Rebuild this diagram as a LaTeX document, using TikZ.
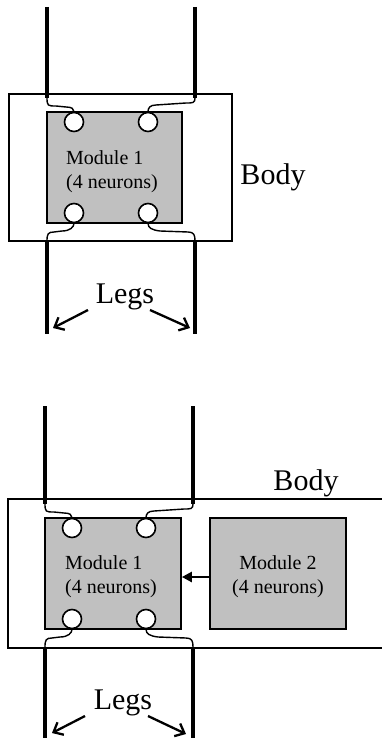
\documentclass[tikz,border=0pt]{standalone}
\usepackage{fontspec}
\setmainfont{Liberation Serif}
\usetikzlibrary{arrows.meta}
\definecolor{modgray}{RGB}{192,192,192}
\tikzset{
  bodybox/.style={draw, line width=1.4pt},
  module/.style={draw, fill=modgray, line width=1.7pt, minimum width=#1, minimum height=111pt, inner sep=0pt},
  neuron/.style={circle, draw, fill=white, minimum size=19pt, inner sep=0pt, line width=1.6pt},
  leg/.style={line width=3.3pt},
  wire/.style={line width=1.4pt},
  modtext/.style={font=\fontsize{20}{24}\selectfont, inner sep=0pt},
  bigtext/.style={font=\fontsize{30}{36}\selectfont, inner sep=0pt},
  legarrow/.style={line width=2.3pt, -{Straight Barb[length=8pt,width=14pt,line width=2.3pt]}},
  modarrow/.style={line width=2.4pt, -{Triangle[length=10pt,width=10pt]}}
}
\begin{document}
\begin{tikzpicture}[x=1pt,y=-1pt]
\useasboundingbox (0,0) rectangle (382,741);
% ---------------- top panel ----------------
\node[bodybox, minimum width=223pt, minimum height=147pt, inner sep=0pt] (bodyA) at (120.5,167.5) {};
\node[module=135pt] (modA) at (114.5,167.5) {};
\node[modtext, align=left] (tA) at (112,172) {Module 1\\(4 neurons)};
\node[neuron] (nA1) at (74,122) {};
\node[neuron] (nA2) at (148,122) {};
\node[neuron] (nA3) at (74,213) {};
\node[neuron] (nA4) at (148,213) {};
\node[bigtext] (bodyLabelA) at (273,177) {Body};
\node[bigtext] (legsLabelA) at (125,297) {Legs};
% legs
\coordinate (lA1t) at (47,7);   \coordinate (lA1b) at (47,98);
\coordinate (lA2t) at (195,7);  \coordinate (lA2b) at (195,98);
\coordinate (lA3t) at (47,241); \coordinate (lA3b) at (47,334);
\coordinate (lA4t) at (195,241);\coordinate (lA4b) at (195,334);
\draw[leg] (lA1t) -- (lA1b);
\draw[leg] (lA2t) -- (lA2b);
\draw[leg] (lA3t) -- (lA3b);
\draw[leg] (lA4t) -- (lA4b);
% wires
\draw[wire] (lA1b) .. controls (47,106) and (48,106) .. (56,106) -- (66,107) .. controls (72,107) and (74,109) .. (nA1.north);
\draw[wire] (lA2b) .. controls (195,103) and (193,103) .. (186,103) -- (156,105) .. controls (150,105) and (148,108) .. (nA2.north);
\draw[wire] (nA3.south) .. controls (74,227) and (70,231) .. (62,231) -- (54,232) .. controls (48,232) and (47,234) .. (lA3t);
\draw[wire] (nA4.south) .. controls (148,228) and (152,230) .. (160,231) -- (188,232) .. controls (194,232) and (195,235) .. (lA4t);
% leg arrows
\coordinate (aA1) at (53,328); \coordinate (aA2) at (190,328);
\draw[legarrow] (88,310) -- (aA1);
\draw[legarrow] (150,310) -- (aA2);
% ---------------- bottom panel ----------------
\coordinate (bB1) at (390,499);
\coordinate (bB2) at (8,499);
\coordinate (bB3) at (8,648);
\coordinate (bB4) at (390,648);
\draw[bodybox] (bB1) -- (bB2) -- (bB3) -- (bB4);
\node[module=136pt] (modB1) at (113,573.5) {};
\node[module=136pt] (modB2) at (278,573.5) {};
\node[modtext, align=left] (tB1) at (111,576.5) {Module 1\\(4 neurons)};
\node[modtext, align=center] (tB2) at (278,576.5) {Module 2\\(4 neurons)};
\node[neuron] (nB1) at (72,528) {};
\node[neuron] (nB2) at (146,528) {};
\node[neuron] (nB3) at (72,619) {};
\node[neuron] (nB4) at (146,619) {};
\node[bigtext] (bodyLabelB) at (306,483) {Body};
\node[bigtext] (legsLabelB) at (123,703) {Legs};
\draw[modarrow] ([yshift=-3.5pt]modB2.west) -- ([yshift=-3.5pt]modB1.east);
% legs
\coordinate (lB1t) at (45,406);  \coordinate (lB1b) at (45,504);
\coordinate (lB2t) at (193,406); \coordinate (lB2b) at (193,504);
\coordinate (lB3t) at (45,647);  \coordinate (lB3b) at (45,738);
\coordinate (lB4t) at (193,647); \coordinate (lB4b) at (193,738);
\draw[leg] (lB1t) -- (lB1b);
\draw[leg] (lB2t) -- (lB2b);
\draw[leg] (lB3t) -- (lB3b);
\draw[leg] (lB4t) -- (lB4b);
% wires
\draw[wire] (lB1b) .. controls (45,512) and (46,512) .. (54,512) -- (64,513) .. controls (70,513) and (72,515) .. (nB1.north);
\draw[wire] (lB2b) .. controls (193,509) and (191,509) .. (184,509) -- (154,511) .. controls (148,511) and (146,514) .. (nB2.north);
\draw[wire] (nB3.south) .. controls (72,633) and (68,637) .. (60,637) -- (52,638) .. controls (46,638) and (45,640) .. (lB3t);
\draw[wire] (nB4.south) .. controls (146,634) and (150,636) .. (158,637) -- (186,638) .. controls (192,638) and (193,641) .. (lB4t);
% leg arrows
\coordinate (aB1) at (52,733); \coordinate (aB2) at (186,734);
\draw[legarrow] (85,716) -- (aB1);
\draw[legarrow] (148,716) -- (aB2);
\end{tikzpicture}
\end{document}
